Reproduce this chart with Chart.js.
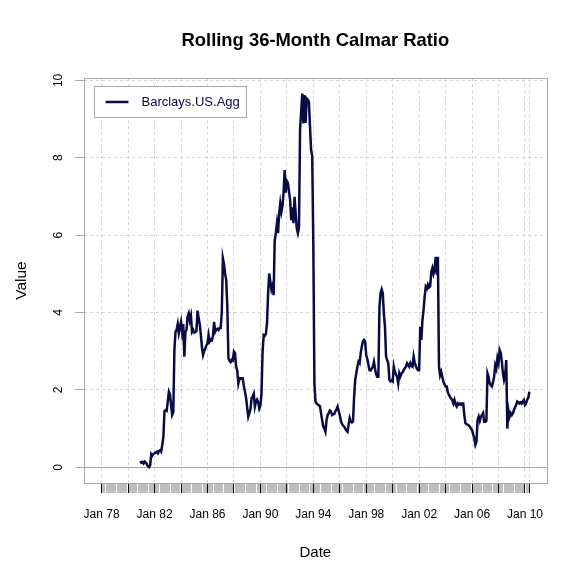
<!DOCTYPE html>
<html>
<head>
<meta charset="utf-8">
<script src="https://cdn.jsdelivr.net/npm/chart.js@4.4.1/dist/chart.umd.min.js"></script>
<style>
  html, body { margin: 0; padding: 0; background: #fff; }
  #wrap { width: 582px; height: 581px; }
</style>
</head>
<body>
<div id="wrap"><canvas id="c" width="582" height="581"></canvas></div>
<script>
// monthly index: 0 = Jan 1978 ... 388 = May 2010
const seriesName = 'Barclays.US.Agg';
const lastMonth = 388;
const firstMonth = 35; // first full 36-month window
const calmar = [
  0.16, 0.12, 0.14, 0.10, 0.15, 0.12, 0.08, 0.02, 0.00, 0.05,
  0.34, 0.30, 0.35, 0.36, 0.38, 0.40, 0.36, 0.42, 0.44, 0.40,
  0.58, 0.79, 1.45, 1.48, 1.46, 1.70, 1.95, 1.88, 1.61, 1.35,
  1.42, 3.03, 3.50, 3.55, 3.70, 3.47, 3.62, 3.76, 3.50, 3.70,
  2.86, 3.50, 3.55, 3.90, 3.98, 3.80, 3.92, 3.50, 3.55, 3.48,
  3.50, 3.52, 4.05, 3.85, 3.70, 3.42, 3.10, 2.90, 3.00, 3.07,
  3.15, 3.20, 3.42, 3.25, 3.30, 3.28, 3.40, 3.76, 3.50, 3.55,
  3.58, 3.55, 3.60, 3.60, 4.02, 5.40, 5.25, 5.00, 4.84, 4.15,
  2.82, 2.75, 2.72, 2.78, 2.76, 2.99, 2.95, 2.60, 2.50, 2.17,
  2.30, 2.28, 2.30, 2.30, 2.10, 1.95, 1.80, 1.55, 1.31, 1.40,
  1.50, 1.78, 1.83, 1.90, 1.57, 1.70, 1.75, 1.68, 1.52, 1.60,
  1.90, 2.99, 3.42, 3.40, 3.45, 3.72, 4.50, 5.01, 4.80, 4.60,
  4.70, 4.45, 5.87, 6.05, 6.30, 6.05, 6.56, 6.82, 6.60, 6.75,
  7.08, 7.68, 7.10, 7.40, 7.35, 7.12, 6.90, 6.39, 6.72, 6.31,
  6.99, 6.56, 6.17, 6.05, 6.20, 8.75, 9.20, 9.66, 8.89, 9.62,
  8.90, 9.53, 9.50, 9.45, 8.80, 8.20, 8.05, 5.79, 2.17, 1.70,
  1.65, 1.62, 1.60, 1.58, 1.40, 1.22, 1.06, 1.00, 0.92, 1.22,
  1.35, 1.40, 1.47, 1.45, 1.35, 1.37, 1.38, 1.45, 1.50, 1.57,
  1.45, 1.35, 1.20, 1.12, 1.08, 1.05, 1.00, 0.95, 0.92, 1.10,
  1.27, 1.18, 1.16, 1.18, 1.82, 2.26, 2.43, 2.60, 2.73, 2.69,
  2.95, 3.12, 3.25, 3.29, 3.25, 2.90, 2.80, 2.65, 2.51, 2.50,
  2.55, 2.60, 2.73, 2.55, 2.40, 2.34, 2.34, 4.15, 4.50, 4.60,
  4.50, 3.98, 3.64, 2.86, 2.77, 2.69, 2.26, 2.22, 2.25, 2.22,
  2.60, 2.47, 2.40, 2.34, 2.17, 2.43, 2.35, 2.43, 2.45, 2.51,
  2.56, 2.60, 2.69, 2.65, 2.60, 2.69, 2.62, 2.60, 2.86, 2.70,
  2.62, 2.55, 2.51, 2.51, 3.63, 3.29, 3.81, 4.07, 4.41, 4.67,
  4.62, 4.72, 4.65, 4.68, 5.05, 5.15, 5.00, 5.10, 5.44, 4.98,
  5.44, 2.60, 2.38, 2.47, 2.34, 2.21, 2.15, 2.09, 2.09, 1.95,
  1.87, 1.82, 1.78, 1.74, 1.65, 1.74, 1.62, 1.57, 1.65, 1.62,
  1.65, 1.62, 1.65, 1.65, 1.35, 1.14, 1.12, 1.10, 1.08, 1.05,
  1.00, 0.96, 0.85, 0.75, 0.58, 0.66, 1.22, 1.31, 1.20, 1.31,
  1.35, 1.40, 1.18, 1.18, 1.20, 2.43, 2.34, 2.17, 2.12, 2.09,
  2.20, 2.34, 2.64, 2.55, 2.82, 2.70, 3.03, 2.95, 2.73, 2.43,
  2.26, 2.38, 2.77, 1.00, 1.48, 1.31, 1.40, 1.35, 1.40, 1.48,
  1.55, 1.61, 1.70, 1.68, 1.65, 1.68, 1.65, 1.70, 1.74, 1.61,
  1.65, 1.74, 1.80, 1.95
];
const xTickLabels = ['Jan 78', 'Jan 82', 'Jan 86', 'Jan 90', 'Jan 94', 'Jan 98', 'Jan 02', 'Jan 06', 'Jan 10'];
const yTicks = [0, 2, 4, 6, 8, 10];

const lineColor = '#0a0a44';
const fontFam = '"Liberation Sans", Arial, Helvetica, sans-serif';

const points = calmar.map((v, k) => ({ x: firstMonth + k, y: v }));
const isMajor = v => v % 24 === 0 || v === lastMonth;

// box round the plot + legend
const frame = {
  id: 'frame',
  afterDatasetsDraw(chart) {
    const { ctx, chartArea: a } = chart;
    ctx.save();
    ctx.strokeStyle = '#aaaaaa';
    ctx.lineWidth = 1;
    ctx.strokeRect(Math.round(a.left) + 0.5, Math.round(a.top) + 0.5,
      Math.round(a.right - a.left), Math.round(a.bottom - a.top));

    const bx = Math.round(a.left + 9.5) + 0.5, by = Math.round(a.top + 8) + 0.5;
    ctx.fillStyle = '#fff';
    ctx.fillRect(bx, by, 152, 31);
    ctx.strokeRect(bx, by, 152, 31);
    ctx.strokeStyle = lineColor;
    ctx.lineWidth = 2.5;
    ctx.beginPath();
    ctx.moveTo(bx + 11, by + 15.5);
    ctx.lineTo(bx + 34, by + 15.5);
    ctx.stroke();
    ctx.fillStyle = lineColor;
    ctx.font = '13px ' + fontFam;
    ctx.textBaseline = 'middle';
    ctx.fillText(chart.data.datasets[0].label, bx + 47, by + 16);
    ctx.restore();
  }
};

new Chart(document.getElementById('c'), {
  type: 'line',
  data: {
    datasets: [{
      label: seriesName,
      data: points,
      borderColor: lineColor,
      borderWidth: 2.5,
      pointRadius: 0,
      tension: 0,
      fill: false
    }]
  },
  options: {
    responsive: false,
    animation: false,
    devicePixelRatio: 1,
    layout: { padding: { left: 0, right: 35.3, top: 0, bottom: 0 } },
    plugins: {
      legend: { display: false },
      tooltip: { enabled: false },
      title: {
        display: true,
        fullSize: false,
        text: 'Rolling 36-Month Calmar Ratio',
        color: '#000',
        font: { family: fontFam, size: 18.4, weight: 'bold' },
        padding: { top: 30, bottom: 26 }
      }
    },
    scales: {
      x: {
        type: 'linear',
        min: -16,
        max: 403.7,
        afterBuildTicks: s => {
          const t = [];
          for (let m = 0; m <= lastMonth; m++) t.push({ value: m });
          s.ticks = t;
        },
        afterFit: s => { s.height = 98; },
        ticks: {
          autoSkip: false,
          maxRotation: 0,
          minRotation: 0,
          padding: 14,
          color: '#000',
          font: { family: fontFam, size: 12 },
          callback: v => (v % 48 === 0 ? xTickLabels[v / 48] : '')
        },
        grid: {
          color: c => (c.tick && isMajor(c.tick.value) ? '#d3d3d3' : 'rgba(0,0,0,0)'),
          tickColor: c => (c.tick && isMajor(c.tick.value) ? '#000' : '#bebebe'),
          tickLength: 10,
          lineWidth: 1
        },
        border: { display: false, dash: [3, 3] },
        title: {
          display: true,
          text: 'Date',
          color: '#000',
          font: { family: fontFam, size: 15 },
          padding: { top: 0, bottom: 19.3 }
        }
      },
      y: {
        min: -0.406,
        max: 10.06,
        afterBuildTicks: s => { s.ticks = yTicks.map(v => ({ value: v })); },
        afterFit: s => { s.width = 84; },
        ticks: {
          minRotation: 90,
          maxRotation: 90,
          crossAlign: 'center',
          padding: 10,
          color: '#000',
          font: { family: fontFam, size: 12 },
          callback: v => String(v)
        },
        grid: {
          color: c => (c.tick && c.tick.value === 0 ? '#aaaaaa' : '#d3d3d3'),
          tickColor: '#aaaaaa',
          tickLength: 9,
          lineWidth: 1
        },
        border: {
          display: false,
          dash: c => (c.tick && c.tick.value !== 0 ? [3, 3] : [])
        },
        title: {
          display: true,
          text: 'Value',
          color: '#000',
          font: { family: fontFam, size: 15.5 },
          padding: { top: 12, bottom: 0 }
        }
      }
    }
  },
  plugins: [frame]
});
</script>
</body>
</html>
